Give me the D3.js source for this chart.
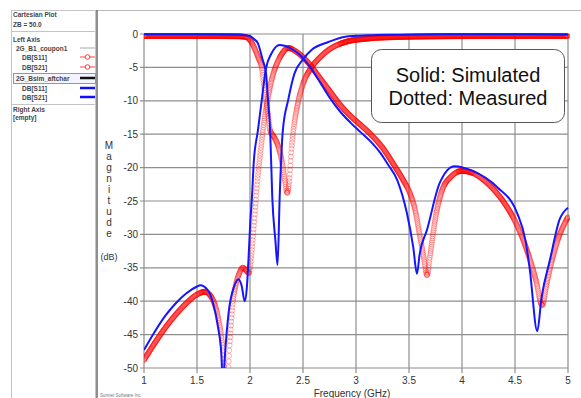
<!DOCTYPE html>
<html>
<head>
<meta charset="utf-8">
<script src="https://cdn.jsdelivr.net/npm/d3@7"></script>
<style>
  html, body { margin: 0; padding: 0; background: #fff; }
  svg { display: block; font-family: "Liberation Sans", Arial, sans-serif; }
</style>
</head>
<body>
<svg id="chart" width="581" height="398"></svg>
<script>
// frequency ticks / magnitude ticks
const freqTicks = [1, 1.5, 2, 2.5, 3, 3.5, 4, 4.5, 5];
const magTicks = [0, -5, -10, -15, -20, -25, -30, -35, -40, -45, -50];

// simulated S11 (blue)
const simS11Freq = [1.0, 1.5, 1.9, 2.0, 2.04, 2.075, 2.12, 2.15, 2.17, 2.19, 2.21, 2.24, 2.26, 2.28, 2.31, 2.36, 2.42, 2.5, 2.58, 2.74, 2.9, 3.1, 3.4, 3.8, 4.5, 5.0];
const simS11dB = [-0.02, -0.03, -0.1, -0.3, -0.8, -1.4, -3.9, -5.7, -9.9, -14.4, -24.4, -31, -34.6, -24.4, -14.4, -9.9, -5.9, -3.8, -2.4, -1.2, -0.4, -0.2, -0.1, -0.05, -0.05, -0.1];

// simulated S21 (blue)
const simS21Freq = [1.0, 1.1, 1.2, 1.3, 1.4, 1.5, 1.53, 1.6, 1.65, 1.7, 1.73, 1.745, 1.76, 1.8, 1.85, 1.89, 1.92, 1.95, 1.97, 1.985, 2.0, 2.02, 2.035, 2.075, 2.11, 2.15, 2.2, 2.28, 2.38, 2.47, 2.57, 2.66, 2.755, 2.85, 2.95, 3.05, 3.15, 3.23, 3.3, 3.39, 3.48, 3.54, 3.575, 3.6, 3.67, 3.79, 3.93, 4.1, 4.33, 4.52, 4.6, 4.64, 4.71, 4.75, 4.83, 4.92, 5.0];
const simS21dB = [-47.3, -44.6, -42.2, -40.3, -38.8, -37.8, -37.6, -38.3, -40.2, -44.0, -48.0, -53, -49, -41.5, -37.8, -36.7, -37.6, -40.0, -38.0, -34, -29, -24, -19.3, -14.4, -10, -5.2, -3.0, -1.65, -2.1, -3.1, -5.0, -7.2, -9.6, -11.6, -13.3, -14.8, -16.3, -17.8, -19.5, -21.9, -26.8, -31.9, -35.9, -33, -29.3, -22.3, -19.8, -20.5, -22.9, -26.8, -31, -35.3, -44.5, -39.5, -33.8, -27.8, -26.0];

// measured S11 (red circles)
const measS11Freq = [1.0, 1.5, 1.9, 1.97, 2.0, 2.05, 2.08, 2.11, 2.14, 2.17, 2.19, 2.23, 2.27, 2.3, 2.33, 2.35, 2.37, 2.39, 2.41, 2.45, 2.5, 2.58, 2.66, 2.74, 2.9, 3.1, 3.4, 3.8, 4.5, 5.0];
const measS11dB = [-0.3, -0.3, -0.35, -0.5, -0.9, -2.4, -3.6, -5.0, -8.8, -12.0, -14.4, -15.5, -17, -19, -22, -23.8, -22, -17.5, -14.4, -10.5, -7.5, -5.0, -3.5, -2.4, -1.2, -0.7, -0.45, -0.35, -0.3, -0.3];

// measured S21 (red circles)
const measS21Freq = [1.0, 1.1, 1.2, 1.3, 1.4, 1.5, 1.575, 1.65, 1.7, 1.74, 1.78, 1.81, 1.84, 1.87, 1.9, 1.93, 1.96, 1.99, 2.01, 2.03, 2.05, 2.07, 2.1, 2.13, 2.17, 2.21, 2.26, 2.3, 2.36, 2.45, 2.55, 2.65, 2.755, 2.85, 2.95, 3.05, 3.15, 3.25, 3.35, 3.45, 3.5, 3.56, 3.6, 3.64, 3.67, 3.7, 3.75, 3.8, 3.9, 4.0, 4.1, 4.2, 4.3, 4.4, 4.5, 4.6, 4.7, 4.755, 4.8, 4.85, 4.9, 5.0];
const measS21dB = [-48.8, -46.3, -44.0, -42.0, -40.3, -39.0, -38.6, -39.8, -42.5, -46.5, -53, -46, -40, -37.3, -35.8, -35.0, -35.3, -35.8, -33.5, -30, -26, -22, -17.5, -13.5, -9.5, -6.5, -4.2, -3.0, -2.1, -2.8, -4.3, -6.4, -8.6, -10.6, -12.3, -13.7, -15.2, -17.0, -19.4, -22.0, -23.5, -26.5, -30.0, -33.5, -36.1, -33, -27.5, -24, -21.3, -20.5, -20.8, -21.8, -23.3, -25.3, -28.0, -31.8, -37.0, -40.6, -37.3, -33.8, -31.0, -27.4];

// side panel rows
const panelRows = [
  { text: "Cartesian Plot", x: 13, y: 16.5 },
  { text: "ZB = 50.0", x: 13, y: 26.5 },
  { text: "Left Axis", x: 13, y: 41.5 },
  { text: "2G_B1_coupon1", x: 16, y: 50.5, key: "gray" },
  { text: "DB[S11]", x: 22, y: 59.5, key: "redc" },
  { text: "DB[S21]", x: 22, y: 69.5, key: "redc" },
  { text: "2G_Bsim_aftchar", x: 16, y: 80.5, key: "black" },
  { text: "DB[S11]", x: 22, y: 90.5, key: "blue" },
  { text: "DB[S21]", x: 22, y: 99.5, key: "blue" },
  { text: "Right Axis", x: 13, y: 111.5 },
  { text: "[empty]", x: 13, y: 119.5 }
];

const svg = d3.select("#chart");

const x = d3.scaleLinear().domain([1, 5]).range([144, 568]);
const y = d3.scaleLinear().domain([-50, 0]).range([368, 34]);

// ---- frame / side panel
svg.append("line").attr("x1", 96).attr("x2", 581).attr("y1", 10.5).attr("y2", 10.5)
  .attr("stroke", "#b8b8b8");
svg.append("rect").attr("x", 11.5).attr("y", 10.5).attr("width", 84).attr("height", 400)
  .attr("fill", "none").attr("stroke", "#c4c4c4");
svg.append("line").attr("x1", 97).attr("x2", 97).attr("y1", 10).attr("y2", 398)
  .attr("stroke", "#6a6a6a").attr("stroke-width", 1.5);
[31.5, 104.5].forEach(v => {
  svg.append("line").attr("x1", 11.5).attr("x2", 96).attr("y1", v).attr("y2", v)
    .attr("stroke", "#c4c4c4");
});
svg.append("rect").attr("x", 13.5).attr("y", 73.5).attr("width", 82).attr("height", 10)
  .attr("fill", "#f4f4ff").attr("stroke", "#8c8cf0");

svg.append("g").selectAll("text").data(panelRows).enter().append("text")
  .attr("x", d => d.x).attr("y", d => d.y)
  .attr("font-size", 6.5).attr("font-weight", "bold").attr("fill", "#444")
  .text(d => d.text);

panelRows.filter(d => d.key).forEach(d => {
  const cy = d.y - 2.5;
  const col = d.key === "gray" ? "#aaa" : d.key === "redc" ? "#ff4040" : d.key === "black" ? "#111" : "#1010ff";
  svg.append("line").attr("x1", 80).attr("x2", 95).attr("y1", cy).attr("y2", cy)
    .attr("stroke", col).attr("stroke-width", d.key === "gray" || d.key === "redc" ? 1 : 2.5);
  if (d.key === "redc") {
    svg.append("circle").attr("cx", 87.5).attr("cy", cy).attr("r", 2.3)
      .attr("fill", "#fff").attr("stroke", col);
  }
});

// ---- grid
const grid = svg.append("g").attr("stroke", "#8e8e8e").attr("stroke-width", 1.2);
grid.selectAll("line.h").data(magTicks).enter().append("line")
  .attr("x1", x(1) - 4).attr("x2", x(5)).attr("y1", d => y(d)).attr("y2", d => y(d));
grid.selectAll("line.v").data(freqTicks).enter().append("line")
  .attr("x1", d => x(d)).attr("x2", d => x(d)).attr("y1", y(0)).attr("y2", y(-50) + 5);

// tick labels
svg.append("g").selectAll("text").data(magTicks).enter().append("text")
  .attr("x", x(1) - 6).attr("y", d => y(d) + 3.5)
  .attr("text-anchor", "end").attr("font-size", 10).attr("fill", "#333")
  .text(d => d);
svg.append("g").selectAll("text").data(freqTicks).enter().append("text")
  .attr("x", d => x(d)).attr("y", 384)
  .attr("text-anchor", "middle").attr("font-size", 10).attr("fill", "#333")
  .text(d => d);

// axis titles
svg.append("text").attr("x", 352).attr("y", 397).attr("text-anchor", "middle")
  .attr("font-size", 10).attr("fill", "#333").text("Frequency (GHz)");
const yTitle = "Magnitude".split("");
svg.append("g").selectAll("text").data(yTitle).enter().append("text")
  .attr("x", 109).attr("y", (d, i) => 149 + i * 11).attr("text-anchor", "middle")
  .attr("font-size", 10).attr("fill", "#333").text(d => d);
svg.append("text").attr("x", 109).attr("y", 260).attr("text-anchor", "middle")
  .attr("font-size", 9).attr("fill", "#333").text("(dB)");
svg.append("text").attr("x", 100).attr("y", 397).attr("font-size", 4.5).attr("fill", "#777")
  .text("Sonnet Software Inc.");

// ---- curves
svg.append("clipPath").attr("id", "plotclip").append("rect")
  .attr("x", x(1)).attr("y", y(0) - 4).attr("width", x(5) - x(1) + 2).attr("height", y(-50) - y(0) + 4);
const plot = svg.append("g").attr("clip-path", "url(#plotclip)");

const line = d3.line().x(d => x(d[0])).y(d => y(d[1])).curve(d3.curveMonotoneX);
const pairs = (f, v) => f.map((d, i) => [d, v[i]]);

// measured data drawn as open circles along the trace
function drawMeasured(f, v) {
  const p = plot.append("path").datum(pairs(f, v)).attr("d", line)
    .attr("fill", "none").attr("stroke", "none");
  const node = p.node();
  const L = node.getTotalLength();
  const pts = [];
  let lastX = -Infinity;
  for (let s = 0; s <= L; s += 0.3) {
    const q = node.getPointAtLength(s);
    if (q.x - lastX >= 0.28) { pts.push([q.x, q.y]); lastX = q.x; }
  }
  plot.append("g").selectAll("circle").data(pts).enter().append("circle")
    .attr("cx", d => d[0]).attr("cy", d => d[1]).attr("r", 2.5)
    .attr("fill", "none").attr("stroke", "#ff0000").attr("stroke-width", 0.6)
    .attr("stroke-opacity", 0.5);
}

drawMeasured(measS21Freq, measS21dB);
drawMeasured(measS11Freq, measS11dB);

[[simS21Freq, simS21dB], [simS11Freq, simS11dB]].forEach(([f, v]) => {
  plot.append("path").datum(pairs(f, v)).attr("d", line)
    .attr("fill", "none").attr("stroke", "#1515ff").attr("stroke-width", 2)
    .attr("stroke-linejoin", "round");
});

// ---- note box
svg.append("rect").attr("x", 371.5).attr("y", 49.5).attr("width", 193).attr("height", 73).attr("rx", 10)
  .attr("fill", "#fff").attr("stroke", "#555");
svg.append("text").attr("x", 468).attr("y", 82).attr("text-anchor", "middle")
  .attr("font-size", 20).attr("fill", "#111").text("Solid: Simulated");
svg.append("text").attr("x", 468).attr("y", 105).attr("text-anchor", "middle")
  .attr("font-size", 20).attr("fill", "#111").text("Dotted: Measured");
</script>
</body>
</html>
